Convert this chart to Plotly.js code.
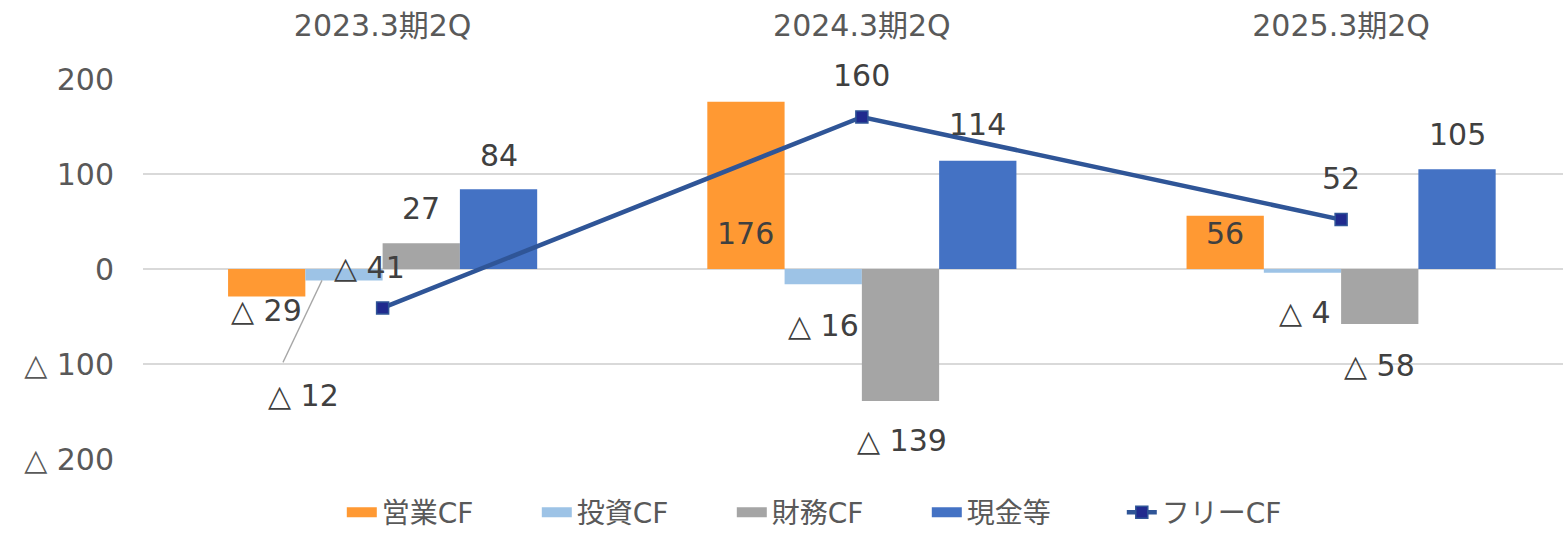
<!DOCTYPE html>
<html>
<head>
<meta charset="utf-8">
<script src="https://cdn.plot.ly/plotly-3.0.1.min.js"></script>
<style>html,body{margin:0;padding:0;background:#fff;}#chart{width:1563px;height:539px;}</style>
</head>
<body>
<div id="chart"></div>
<script>
// ---- data ----
const categories = ['2023.3期2Q', '2024.3期2Q', '2025.3期2Q'];
const seriesNames = ['営業CF', '投資CF', '財務CF', '現金等'];
const operatingCF = [-29, 176, 56];
const investingCF = [-12, -16, -4];
const financingCF = [27, -139, -58];
const cashEtc = [84, 114, 105];
const freeCFName = 'フリーCF';
const freeCF = [-41, 160, 52];
const yTickVals = [-200, -100, 0, 100, 200];

// ---- styling ----
const FONT = 'DejaVu Sans, "Noto Sans CJK JP", sans-serif';
const LABEL_SIZE = 30;
const barColors = ['#FF9933', '#9DC3E6', '#A5A5A5', '#4472C4'];
const barSeries = [operatingCF, investingCF, financingCF, cashEtc];
const fmt = v => v < 0 ? '△ ' + Math.abs(v) : String(v);
const xIdx = categories.map((c, i) => i);

const BARGAP = 0.355;
const barW = (1 - BARGAP) / 4;
const barOffset = k => (k - 1.5) * barW;

const traces = barSeries.map((vals, k) => ({
  type: 'bar',
  name: seriesNames[k],
  x: xIdx,
  y: vals,
  marker: {color: barColors[k], line: {width: 0}},
  showlegend: false,
  hoverinfo: 'skip'
}));
traces.push({
  type: 'scatter',
  mode: 'lines+markers',
  name: freeCFName,
  x: xIdx,
  y: freeCF,
  line: {color: '#2F5597', width: 4.5},
  marker: {symbol: 'square', size: 12, color: '#202A8E', line: {color: '#2F5597', width: 1.5}},
  showlegend: false,
  hoverinfo: 'skip'
});
// legend entries (wide rectangular swatches like the original)
seriesNames.forEach((name, k) => {
  traces.push({
    type: 'scatter', mode: 'lines', name: name,
    x: [null], y: [null],
    line: {color: barColors[k], width: 16},
    showlegend: true, hoverinfo: 'skip'
  });
});
traces.push({
  type: 'scatter', mode: 'lines+markers', name: freeCFName,
  x: [null], y: [null],
  line: {color: '#2F5597', width: 4.5},
  marker: {symbol: 'square', size: 12, color: '#202A8E', line: {color: '#2F5597', width: 1.5}},
  showlegend: true, hoverinfo: 'skip'
});

// label pixel shifts [xshift, yshift] per series per category
const barShifts = [
  [[0, -14], [0, -132], [0, -18]],
  [[-40, -115], [0, -41], [3, -40]],
  [[0, 35], [1, -39], [0, -41]],
  [[0, 34], [0, 36], [0, 35]]
];
const lineShifts = [[-13, 40], [0, 42], [0, 41]];

const annotations = [];
barSeries.forEach((vals, k) => {
  vals.forEach((v, i) => {
    annotations.push({
      x: xIdx[i] + barOffset(k), y: v, xref: 'x', yref: 'y',
      text: fmt(v), showarrow: false,
      xshift: barShifts[k][i][0], yshift: barShifts[k][i][1],
      font: {family: FONT, size: LABEL_SIZE, color: '#404040'}
    });
  });
});
freeCF.forEach((v, i) => {
  annotations.push({
    x: xIdx[i], y: v, xref: 'x', yref: 'y',
    text: fmt(v), showarrow: false,
    xshift: lineShifts[i][0], yshift: lineShifts[i][1],
    font: {family: FONT, size: LABEL_SIZE, color: '#404040'}
  });
});

// leader line for the small investing CF label in the first period
const shapes = [{
  type: 'line', xref: 'x', yref: 'y',
  xsizemode: 'pixel', ysizemode: 'pixel',
  xanchor: xIdx[0] + barOffset(1), yanchor: investingCF[0],
  x0: -22, y0: 0, x1: -61, y1: -82,
  line: {color: '#A6A6A6', width: 1.3}
}];

const layout = {
  width: 1563, height: 539,
  margin: {l: 143, r: 0, t: 79, b: 80},
  paper_bgcolor: '#ffffff', plot_bgcolor: '#ffffff',
  barmode: 'group', bargap: BARGAP, bargroupgap: 0,
  font: {family: FONT, size: LABEL_SIZE, color: '#595959'},
  showlegend: true,
  legend: {
    orientation: 'h', x: 0.14, xanchor: 'left', y: -0.207, yanchor: 'bottom',
    font: {family: FONT, size: 28, color: '#595959'},
    entrywidth: 150, entrywidthmode: 'pixels', traceorder: 'normal',
    itemwidth: 30
  },
  xaxis: {
    side: 'top', type: 'linear', range: [-0.5, 2.463],
    tickvals: xIdx, ticktext: categories,
    showgrid: false, zeroline: false, showline: false,
    ticks: 'outside', ticklen: 30, tickcolor: 'rgba(0,0,0,0)',
    tickfont: {family: FONT, size: 30, color: '#595959'}
  },
  yaxis: {
    range: [-200, 200], tickvals: yTickVals, ticktext: yTickVals.map(fmt),
    showgrid: true, gridcolor: '#D9D9D9', gridwidth: 1.5,
    zeroline: false, showline: false,
    ticks: 'outside', ticklen: 22, tickcolor: 'rgba(0,0,0,0)',
    tickfont: {family: FONT, size: 30, color: '#595959'}
  },
  annotations: annotations,
  shapes: shapes
};

Plotly.newPlot('chart', traces, layout, {staticPlot: true, displayModeBar: false});
</script>
</body>
</html>
